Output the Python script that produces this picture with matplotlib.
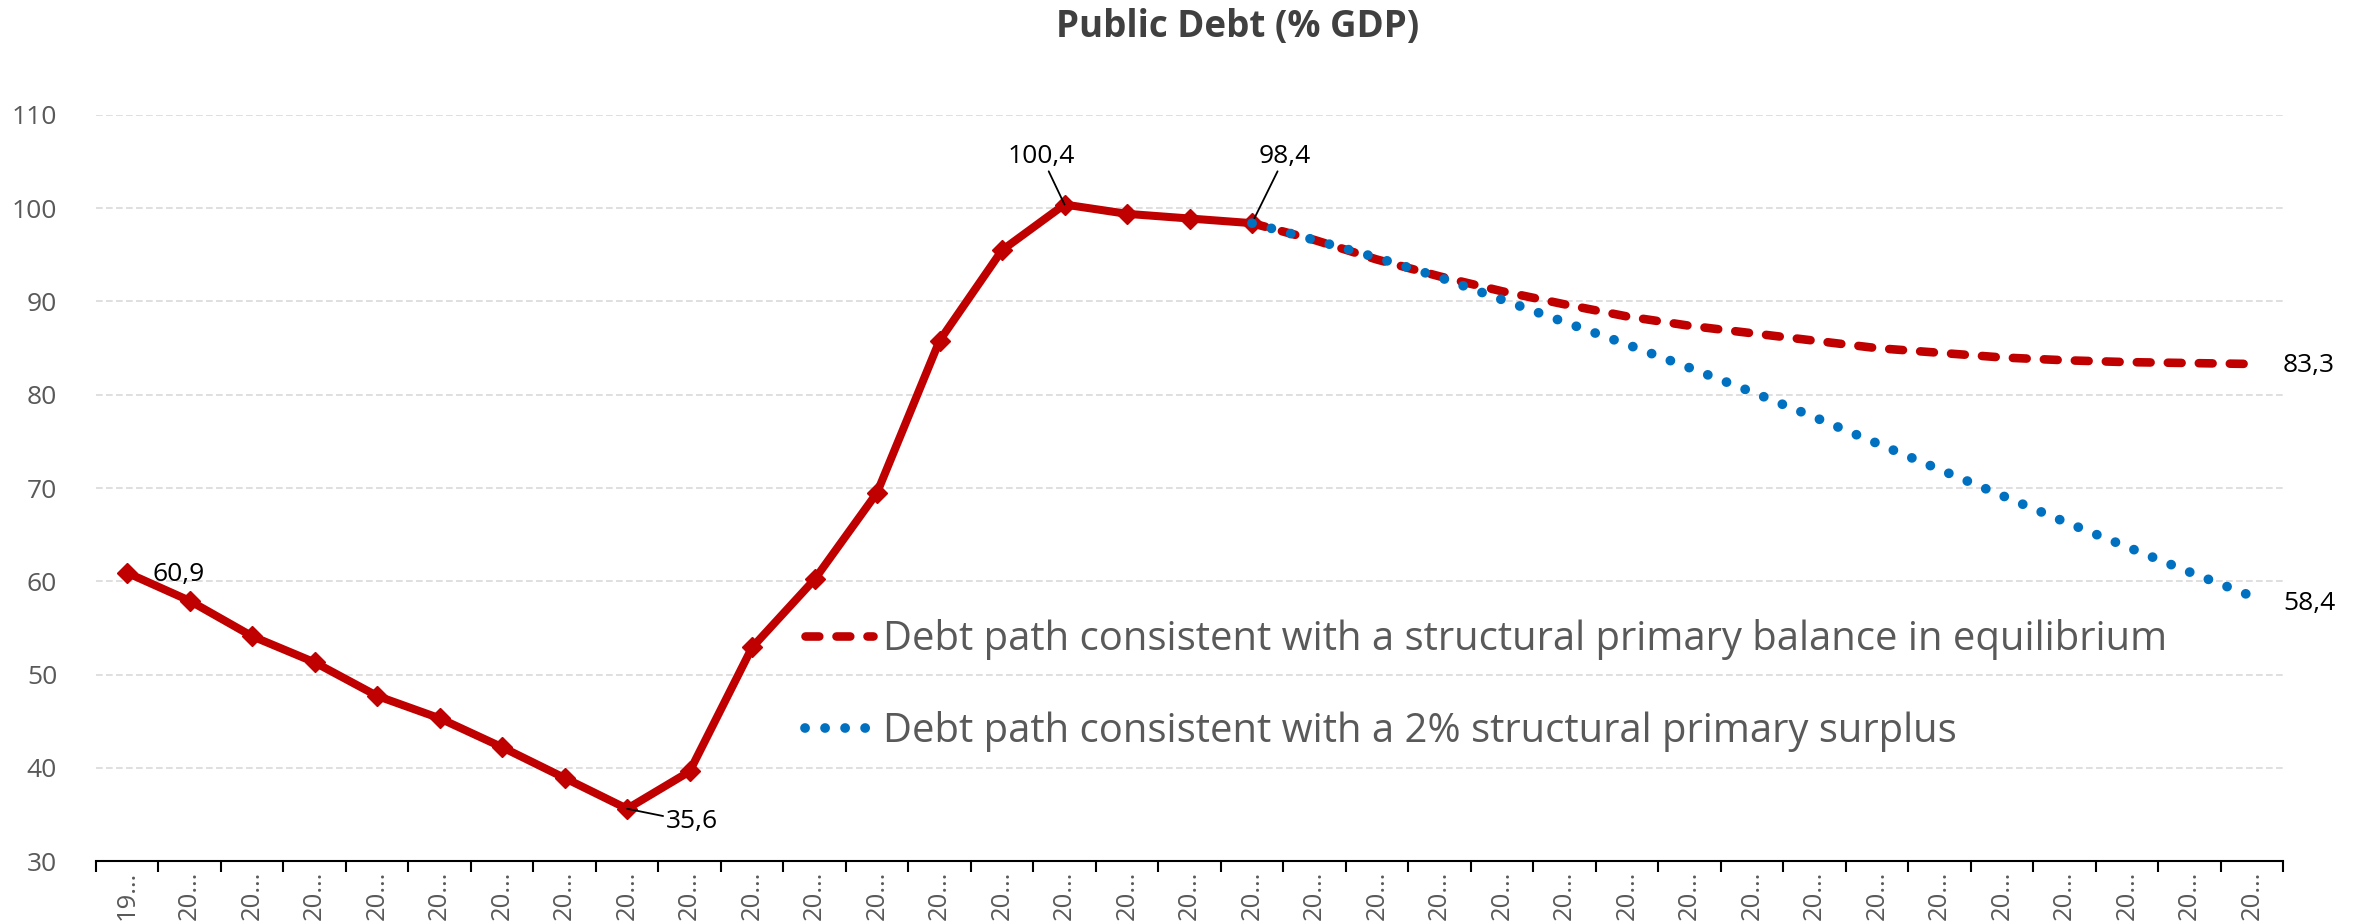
import matplotlib

matplotlib.use("Agg")
import matplotlib.pyplot as plt
from matplotlib.ticker import FixedLocator

plt.rcParams["font.family"] = ["Open Sans", "DejaVu Sans"]

years = list(range(1999, 2034))
tick_labels = [str(y)[:2] + "\u2026" for y in years]

# observed debt, 1999-2017
debt_hist = [60.9, 57.9, 54.1, 51.3, 47.7, 45.3, 42.2, 38.9, 35.6, 39.6,
             52.9, 60.2, 69.5, 85.8, 95.5, 100.4, 99.4, 98.9, 98.4]
# projections, 2017-2033
debt_balance = [98.4, 96.6, 94.5, 92.7, 91.1, 89.7, 88.4, 87.4, 86.6,
                85.8, 85.0, 84.5, 84.0, 83.7, 83.5, 83.4, 83.3]
debt_surplus = [98.4, 96.6, 94.7, 92.6, 90.2, 87.8, 85.4, 82.9, 80.3,
                77.6, 74.8, 72.0, 69.2, 66.4, 63.7, 61.0, 58.4]

label_balance = "Debt path consistent with a structural primary balance in equilibrium"
label_surplus = "Debt path consistent with a 2% structural primary surplus"

RED = "#C00000"
BLUE = "#0070C0"
GREY = "#595959"

x_hist = list(range(len(debt_hist)))
x_proj = list(range(len(debt_hist) - 1, len(years)))

fig = plt.figure(figsize=(23.53, 9.21), dpi=100)
ax = fig.add_axes([96 / 2353, 1 - 861 / 921, (2283 - 96) / 2353, (861 - 115) / 921])

ax.plot(x_hist, debt_hist, color=RED, lw=5.8, marker="D", markersize=10.5,
        solid_joinstyle="round", zorder=3)
ax.plot(x_proj, debt_balance, color=RED, lw=6.2, linestyle=(0, (1.6, 2.0)),
        dash_capstyle="round", label=label_balance, zorder=4)
ax.plot(x_proj, debt_surplus, color=BLUE, lw=7, linestyle=(0, (0.01, 2.05)),
        dash_capstyle="round", label=label_surplus, zorder=5)

ax.set_xlim(-0.5, len(years) - 0.5)
ax.set_ylim(30, 110)
ax.set_yticks(range(30, 111, 10))
ax.tick_params(axis="y", length=0, pad=28, labelsize=19, labelcolor=GREY)
ax.yaxis.grid(True, color="#D9D9D9", lw=1.2, linestyle=(0, (4, 2)))
ax.set_axisbelow(True)

# ticks between categories, labels centred
ax.xaxis.set_major_locator(FixedLocator([i - 0.5 for i in range(len(years) + 1)]))
ax.xaxis.set_minor_locator(FixedLocator(list(range(len(years)))))
ax.set_xticklabels([], minor=False)
ax.set_xticklabels(tick_labels, minor=True, rotation=90)
ax.tick_params(axis="x", which="major", length=8, width=1.5, color="black")
ax.tick_params(axis="x", which="minor", length=0, pad=7, labelsize=18.5, labelcolor=GREY)

for side in ("top", "right", "left"):
    ax.spines[side].set_visible(False)
ax.spines["bottom"].set_linewidth(1.5)

lbl = dict(fontsize=19, color="black", annotation_clip=False)
line = dict(arrowstyle="-", color="black", lw=1.3, shrinkA=0, shrinkB=0)
ax.annotate("60,9", xy=(0, debt_hist[0]), xytext=(0.4, 60.7), ha="left", va="center", **lbl)
ax.annotate("35,6", xy=(8, debt_hist[8]), xytext=(8.62, 34.2), ha="left", va="center",
            arrowprops=line, **lbl)
ax.annotate("100,4", xy=(15, debt_hist[15]), xytext=(14.63, 105.6), ha="center", va="center",
            arrowprops=line, **lbl)
ax.annotate("98,4", xy=(18, debt_hist[18]), xytext=(18.53, 105.6), ha="center", va="center",
            arrowprops=line, **lbl)
ax.annotate("83,3", xy=(34, debt_balance[-1]), xytext=(34.5, 83.1), ha="left", va="center", **lbl)
ax.annotate("58,4", xy=(34, debt_surplus[-1]), xytext=(34.5, 57.6), ha="left", va="center", **lbl)

ax.legend(loc="center left", bbox_to_anchor=(0.324, 0.235), frameon=False, fontsize=28.8,
          handlelength=1.72, handletextpad=0.25, labelspacing=1.27, borderpad=0,
          borderaxespad=0, labelcolor=GREY)

fig.text(1238 / 2353, 1 - 27 / 921, "Public Debt (% GDP)", ha="center", va="center",
         fontsize=26.5, fontweight="bold", color="#404040")

fig.savefig("out.png", dpi=100)
